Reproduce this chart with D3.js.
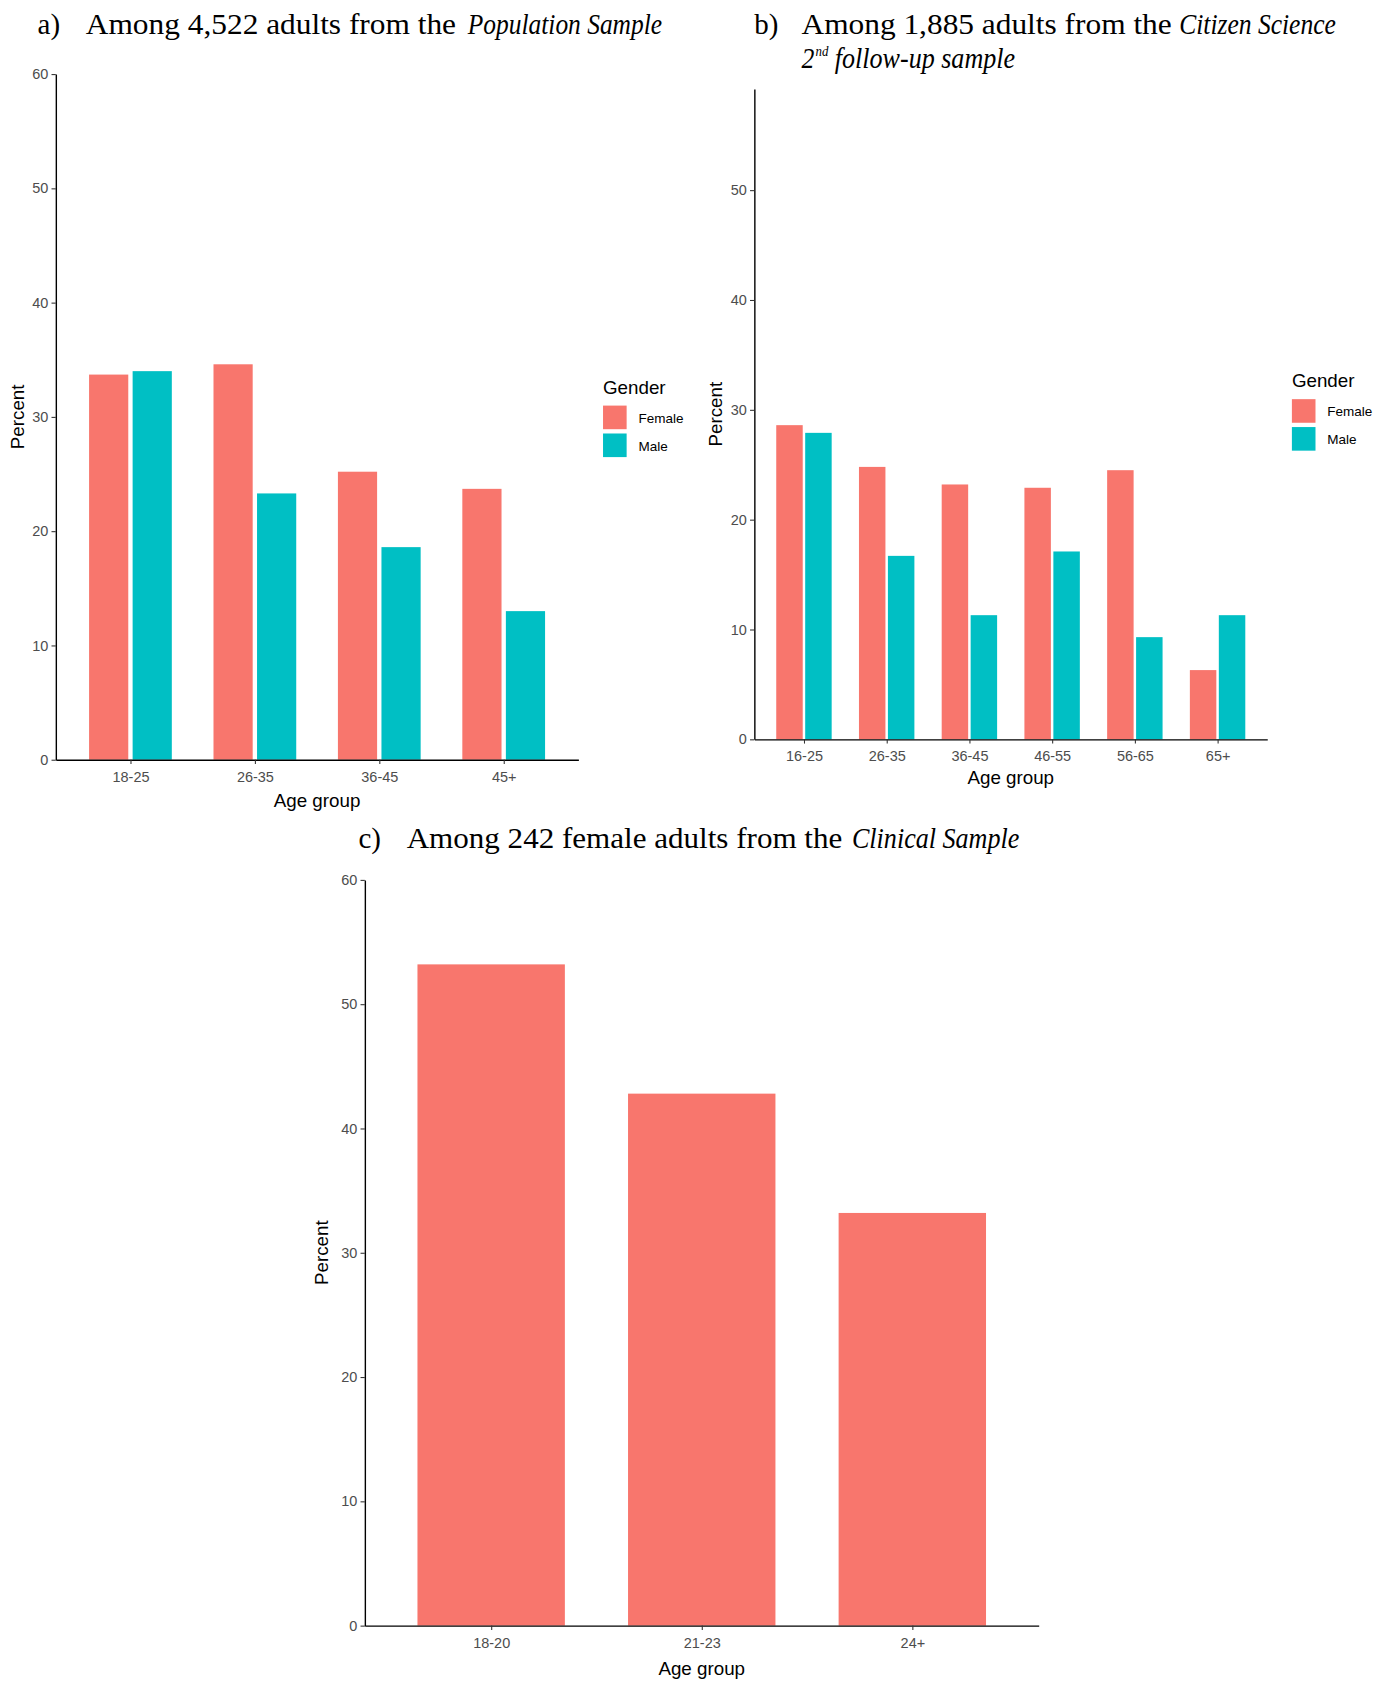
<!DOCTYPE html>
<html><head><meta charset="utf-8">
<script src="https://cdn.jsdelivr.net/npm/d3@7"></script>
<style>body{margin:0;background:#fff}</style>
</head><body>
<script>
// ---- data ----
const groupsA = ["18-25","26-35","36-45","45+"];
const femaleA = [33.7, 34.6, 25.2, 23.7];
const maleA   = [34.0, 23.3, 18.6, 13.0];
const groupsB = ["16-25","26-35","36-45","46-55","56-65","65+"];
const femaleB = [28.6, 24.8, 23.2, 22.9, 24.5, 6.3];
const maleB   = [27.9, 16.7, 11.3, 17.1, 9.3, 11.3];
const groupsC = ["18-20","21-23","24+"];
const femaleC = [53.2, 42.8, 33.2];
const ticksA = [0,10,20,30,40,50,60];
const ticksB = [0,10,20,30,40,50];
const ticksC = [0,10,20,30,40,50,60];
const genders = ["Female","Male"];
const colors = {Female:"#F8766D", Male:"#00BFC4"};

const K = 1.073;
const svg = d3.select("body").append("svg").attr("width",1390).attr("height",1686);
const root = svg.append("g").attr("transform",`scale(${K})`);
const SANS = "Liberation Sans, Arial, sans-serif";
const SERIF = "Liberation Serif, Times New Roman, serif";

function drawPanel(p){
  const g = root.append("g");
  const n = p.groups.length;
  const x = d3.scaleLinear().domain([-0.6, n-1+0.6]).range([p.x0, p.x1]);
  const y = d3.scaleLinear().domain([0, p.ymax]).range([p.y0, p.y1]);
  const unit = x(1)-x(0);
  p.series.forEach((s,si)=>{
    const off = p.series.length===1 ? 0 : (si===0 ? -p.dodge/2 : p.dodge/2);
    g.append("g").selectAll("rect").data(s.values).join("rect")
      .attr("x",(d,i)=>x(i+off) - p.bw*unit/2)
      .attr("width",p.bw*unit)
      .attr("y",d=>y(d)).attr("height",d=>y(0)-y(d))
      .attr("fill",colors[s.name]);
  });
  const ax = g.append("g").attr("transform",`translate(0,${p.y0})`)
    .call(d3.axisBottom(x).tickValues(d3.range(n)).tickFormat(i=>p.groups[i]).tickSize(4).tickPadding(7).tickSizeOuter(0));
  const ay = g.append("g").attr("transform",`translate(${p.x0},0)`)
    .call(d3.axisLeft(y).tickValues(p.ticks).tickSize(4).tickPadding(3).tickSizeOuter(0));
  [ax,ay].forEach(a=>{
    a.select(".domain").attr("stroke","#000").attr("stroke-width",1.3);
    a.selectAll(".tick line").attr("stroke","#333").attr("stroke-width",1);
    a.selectAll(".tick text").attr("fill","#4D4D4D").attr("font-family",SANS).attr("font-size",p.tickFs);
  });
  g.append("text").attr("x",(p.x0+p.x1)/2).attr("y",p.xlabY).attr("text-anchor","middle")
    .attr("font-family",SANS).attr("font-size",p.titleFs).attr("fill","#000").text("Age group");
  g.append("text").attr("transform",`translate(${p.ylabX},${(p.y0+p.y1)/2}) rotate(-90)`)
    .attr("text-anchor","middle").attr("font-family",SANS).attr("font-size",p.titleFs).attr("fill","#000").text("Percent");
  if(p.legend){
    const L = p.legend;
    const lg = g.append("g");
    lg.append("text").attr("x",L.x).attr("y",L.y).attr("font-family",SANS).attr("font-size",17.5).attr("fill","#000").text("Gender");
    genders.forEach((gn,i)=>{
      lg.append("rect").attr("x",L.x).attr("y",L.y+11+i*26).attr("width",22).attr("height",22).attr("fill",colors[gn]);
      lg.append("text").attr("x",L.x+33).attr("y",L.y+11+i*26+16).attr("font-family",SANS).attr("font-size",12.6).attr("fill","#000").text(gn);
    });
  }
}

function seg(x, y, txt, w, italic, fs){
  const t = root.append("text").attr("x",x).attr("y",y).attr("font-family",SERIF)
    .attr("font-size",fs||27).attr("fill","#000").text(txt);
  if(italic) t.attr("font-style","italic");
  if(w) t.attr("textLength",w).attr("lengthAdjust","spacingAndGlyphs");
  return t;
}

seg(35, 32, "a)");
seg(80, 32, "Among 4,522 adults from the", 345);
seg(436, 32, "Population Sample", 181, true);
seg(703, 32, "b)");
seg(747, 32, "Among 1,885 adults from the", 345);
seg(1099, 32, "Citizen Science", 146, true);
seg(747, 63, "2", 12, true);
seg(760, 52, "nd", 12, true, 14);
seg(778, 63, "follow-up sample", 168, true);
seg(334, 790, "c)");
seg(379, 790, "Among 242 female adults from the", 406);
seg(794, 790, "Clinical Sample", 156, true);

drawPanel({groups:groupsA, series:[{name:"Female",values:femaleA},{name:"Male",values:maleA}],
  x0:52, x1:539, y0:708, y1:69, ymax:60, ticks:ticksA, dodge:0.35, bw:0.315,
  tickFs:13.5, titleFs:17.5, xlabY:752, ylabX:22, legend:{x:562,y:367}});
drawPanel({groups:groupsB, series:[{name:"Female",values:femaleB},{name:"Male",values:maleB}],
  x0:703, x1:1181, y0:689, y1:83, ymax:59.2, ticks:ticksB, dodge:0.35, bw:0.32,
  tickFs:13.5, titleFs:17.5, xlabY:731, ylabX:673, legend:{x:1204,y:361}});
drawPanel({groups:groupsC, series:[{name:"Female",values:femaleC}],
  x0:340, x1:968, y0:1515, y1:820, ymax:60, ticks:ticksC, dodge:0, bw:0.7,
  tickFs:13.5, titleFs:17.5, xlabY:1561, ylabX:306, legend:null});
</script>
</body></html>
